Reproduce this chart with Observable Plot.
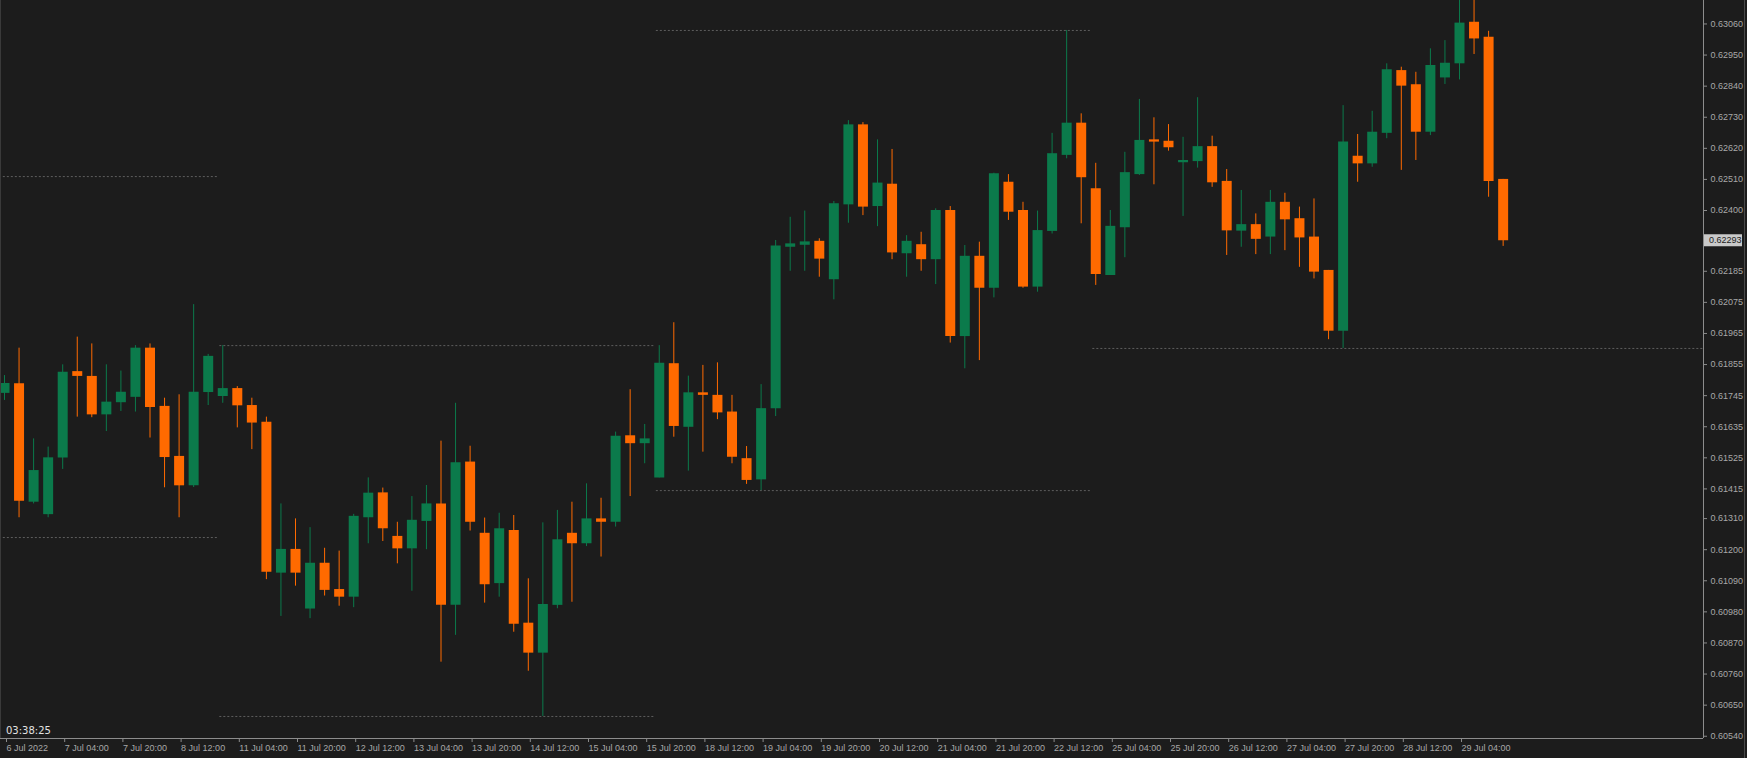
<!DOCTYPE html>
<html><head><meta charset="utf-8">
<script src="https://cdn.jsdelivr.net/npm/d3@7"></script>
<script src="https://cdn.jsdelivr.net/npm/@observablehq/plot@0.6"></script>
<style>
html,body{margin:0;padding:0;background:#1c1c1c;overflow:hidden;}
#chart{position:relative;width:1747px;height:758px;}
</style></head><body><div id="chart"></div>
<script>
// H4 candles, index 0 = 6 Jul 2022 12:00
const open = [0.61753,0.61787,0.61368,0.61324,0.61524,0.61830,0.61813,0.61677,0.61720,0.61739,
0.61913,0.61707,0.61530,0.61426,0.61756,0.61742,0.61770,0.61710,0.61651,0.61117,
0.61201,0.60990,0.61152,0.61059,0.61032,0.61313,0.61401,0.61247,0.61203,0.61300,
0.61362,0.61003,0.61510,0.61258,0.61080,0.61268,0.60940,0.60834,0.61003,0.61258,
0.61221,0.61309,0.61297,0.61603,0.61575,0.61454,0.61858,0.61633,0.61755,0.61746,
0.61687,0.61522,0.61447,0.61699,0.62270,0.62277,0.62291,0.62155,0.62420,0.62703,
0.62414,0.62493,0.62247,0.62279,0.62226,0.62400,0.61954,0.62238,0.62125,0.62500,
0.62400,0.62129,0.62326,0.62595,0.62709,0.62477,0.62170,0.62339,0.62527,0.62650,
0.62645,0.62569,0.62573,0.62626,0.62503,0.62327,0.62350,0.62306,0.62429,0.62371,
0.62306,0.62188,0.61973,0.62592,0.62565,0.62673,0.62895,0.62845,0.62677,0.62869,
0.62919,0.63066,0.63013,0.62510];
const high = [0.61816,0.61913,0.61592,0.61563,0.61854,0.61952,0.61928,0.61854,0.61832,0.61922,
0.61928,0.61736,0.61748,0.62067,0.61891,0.61922,0.61777,0.61736,0.61669,0.61362,
0.61309,0.61278,0.61205,0.61195,0.61325,0.61454,0.61418,0.61297,0.61388,0.61427,
0.61584,0.61718,0.61566,0.61312,0.61329,0.61321,0.61097,0.61295,0.61339,0.61368,
0.61433,0.61382,0.61616,0.61766,0.61643,0.61922,0.62003,0.61814,0.61852,0.61861,
0.61746,0.61565,0.61784,0.62294,0.62376,0.62398,0.62300,0.62432,0.62718,0.62711,
0.62650,0.62616,0.62311,0.62323,0.62406,0.62414,0.62276,0.62288,0.62532,0.62527,
0.62429,0.62398,0.62673,0.63037,0.62742,0.62567,0.62400,0.62606,0.62793,0.62728,
0.62704,0.62659,0.62799,0.62663,0.62545,0.62471,0.62388,0.62471,0.62461,0.62412,
0.62441,0.62188,0.62771,0.62669,0.62751,0.62919,0.62907,0.62889,0.62972,0.63001,
0.63150,0.63150,0.63034,0.62510];
const low = [0.61728,0.61313,0.61362,0.61313,0.61484,0.61669,0.61667,0.61618,0.61689,0.61687,
0.61595,0.61419,0.61313,0.61420,0.61710,0.61718,0.61631,0.61554,0.61094,0.60964,
0.61071,0.60956,0.61036,0.61000,0.60995,0.61221,0.61229,0.61150,0.61053,0.61200,
0.60802,0.60897,0.61266,0.61011,0.61032,0.60908,0.60770,0.60610,0.60991,0.61014,
0.61211,0.61174,0.61280,0.61388,0.61504,0.61454,0.61598,0.61478,0.61545,0.61660,
0.61504,0.61431,0.61409,0.61671,0.62185,0.62185,0.62164,0.62084,0.62355,0.62382,
0.62343,0.62226,0.62164,0.62185,0.62138,0.61931,0.61840,0.61869,0.62091,0.62365,
0.62125,0.62111,0.62317,0.62583,0.62353,0.62135,0.62170,0.62233,0.62524,0.62491,
0.62610,0.62379,0.62550,0.62482,0.62241,0.62270,0.62244,0.62244,0.62258,0.62199,
0.62158,0.61943,0.61912,0.62500,0.62553,0.62654,0.62542,0.62577,0.62665,0.62846,
0.62862,0.62952,0.62447,0.62273];
const close = [0.61788,0.61371,0.61480,0.61525,0.61828,0.61813,0.61677,0.61722,0.61757,0.61913,
0.61703,0.61526,0.61426,0.61757,0.61884,0.61770,0.61709,0.61648,0.61120,0.61201,
0.61117,0.61152,0.61056,0.61032,0.61318,0.61400,0.61274,0.61203,0.61304,0.61362,
0.61003,0.61508,0.61297,0.61076,0.61274,0.60936,0.60834,0.61006,0.61235,0.61221,
0.61309,0.61297,0.61601,0.61575,0.61592,0.61860,0.61636,0.61755,0.61746,0.61684,
0.61527,0.61445,0.61699,0.62274,0.62282,0.62289,0.62228,0.62424,0.62703,0.62412,
0.62497,0.62250,0.62291,0.62226,0.62400,0.61954,0.62238,0.62125,0.62530,0.62394,
0.62129,0.62329,0.62601,0.62709,0.62516,0.62174,0.62344,0.62534,0.62648,0.62642,
0.62622,0.62577,0.62626,0.62498,0.62328,0.62350,0.62298,0.62429,0.62367,0.62303,
0.62182,0.61973,0.62642,0.62565,0.62677,0.62898,0.62840,0.62677,0.62913,0.62921,
0.63063,0.63007,0.62503,0.62293];

// weekly high / low separators (week start as candle index)
const weekStart = [-15, 15, 45, 75];
const weekHigh = [0.62520, 0.61922, 0.63037, 0.63150];
const weekLow = [0.61243, 0.60610, 0.61409, 0.61912];

const xTickLabels = ["6 Jul 2022","7 Jul 04:00","7 Jul 20:00","8 Jul 12:00","11 Jul 04:00","11 Jul 20:00",
"12 Jul 12:00","13 Jul 04:00","13 Jul 20:00","14 Jul 12:00","15 Jul 04:00","15 Jul 20:00","18 Jul 12:00",
"19 Jul 04:00","19 Jul 20:00","20 Jul 12:00","21 Jul 04:00","21 Jul 20:00","22 Jul 12:00","25 Jul 04:00",
"25 Jul 20:00","26 Jul 12:00","27 Jul 04:00","27 Jul 20:00","28 Jul 12:00","29 Jul 04:00"];
const yTickLabels = ["0.63060","0.62950","0.62840","0.62730","0.62620","0.62510","0.62400","0.62185",
"0.62075","0.61965","0.61855","0.61745","0.61635","0.61525","0.61415","0.61310","0.61200","0.61090",
"0.60980","0.60870","0.60760","0.60650","0.60540"];
const currentPrice = 0.62293;
const currentPriceLabel = "0.62293";
const timerLabel = "03:38:25";

const candles = open.map((o, i) => ({i, open: o, high: high[i], low: low[i], close: close[i], up: close[i] >= o}));
const X_MIN = -0.275, X_MAX = 116.77;
const Y_MIN = 0.60532, Y_MAX = 0.63143;
const weeks = weekStart.map((s, k) => ({
  start: s - 0.2,
  end: k < weekStart.length - 1 ? weekStart[k + 1] - 0.3 : X_MAX,
  high: weekHigh[k], low: weekLow[k]
}));
const xTicks = xTickLabels.map((_, k) => k * 4);
const yTicks = yTickLabels.map(Number);

const BULL = "#0b7a4b", BEAR = "#ff6a00", AXIS = "#8c8c8c", TEXT = "#a8a8a8", SEP = "#5e5e5e";

const bulls = candles.filter(d => d.up), bears = candles.filter(d => !d.up);
const plot = Plot.plot({
  width: 1747, height: 758,
  marginLeft: 0, marginRight: 44, marginTop: 0, marginBottom: 20,
  style: {background: "#1c1c1c", color: TEXT, fontFamily: "'Liberation Sans', Arial, sans-serif", fontSize: "9px"},
  x: {domain: [X_MIN, X_MAX], axis: null, label: null},
  y: {domain: [Y_MIN, Y_MAX], axis: null, label: null},
  marks: [
    Plot.ruleY(weeks, {y: "high", x1: "start", x2: "end", stroke: SEP, strokeDasharray: "2,2", clip: true}),
    Plot.ruleY(weeks, {y: "low", x1: "start", x2: "end", stroke: SEP, strokeDasharray: "2,2", clip: true}),
    Plot.ruleX(bulls, {x: "i", y1: "low", y2: "high", stroke: BULL, strokeWidth: 1, clip: true}),
    Plot.ruleX(bears, {x: "i", y1: "low", y2: "high", stroke: BEAR, strokeWidth: 1, clip: true}),
    Plot.ruleX(bulls, {x: "i", y1: "open", y2: "close", stroke: BULL, strokeWidth: 10, clip: true}),
    Plot.ruleX(bears, {x: "i", y1: "open", y2: "close", stroke: BEAR, strokeWidth: 10, clip: true}),
    Plot.ruleX([X_MAX], {stroke: AXIS}),
    Plot.ruleY([Y_MIN], {stroke: AXIS}),
    Plot.axisY(yTicks, {anchor: "right", tickSize: 3, tickPadding: 4, label: null,
      tickFormat: d => yTickLabels[yTicks.indexOf(d)], stroke: AXIS, fill: TEXT}),
    Plot.axisX(xTicks, {anchor: "bottom", tickSize: 4, tickPadding: 2, label: null, textAnchor: "start", dx: 2,
      tickFormat: d => xTickLabels[d / 4], stroke: AXIS, fill: TEXT})
  ]
});
document.getElementById("chart").appendChild(plot);

const svg = d3.select(plot);
const yS = plot.scale("y");
const yy = yS.apply(currentPrice);
svg.append("rect").attr("x", 1704).attr("y", yy - 6).attr("width", 38).attr("height", 12).attr("fill", "#c9c9c9");
svg.append("text").attr("x", 1709).attr("y", yy).attr("dy", "0.33em").attr("fill", "#1c1c1c")
  .attr("text-anchor", "start")
  .attr("font-size", 9).attr("font-family", "'Liberation Sans', Arial, sans-serif").text(currentPriceLabel);
svg.append("text").attr("x", 6).attr("y", 734).attr("fill", "#e2e2e2").attr("text-anchor", "start")
  .attr("font-size", 10).attr("font-family", "'DejaVu Sans', sans-serif").text(timerLabel);
svg.append("line").attr("x1", 1744.5).attr("x2", 1744.5).attr("y1", 0).attr("y2", 758).attr("stroke", "#4a4a4a");
svg.append("line").attr("x1", 0.5).attr("x2", 0.5).attr("y1", 0).attr("y2", 738).attr("stroke", "#3a3a3a");
</script></body></html>
